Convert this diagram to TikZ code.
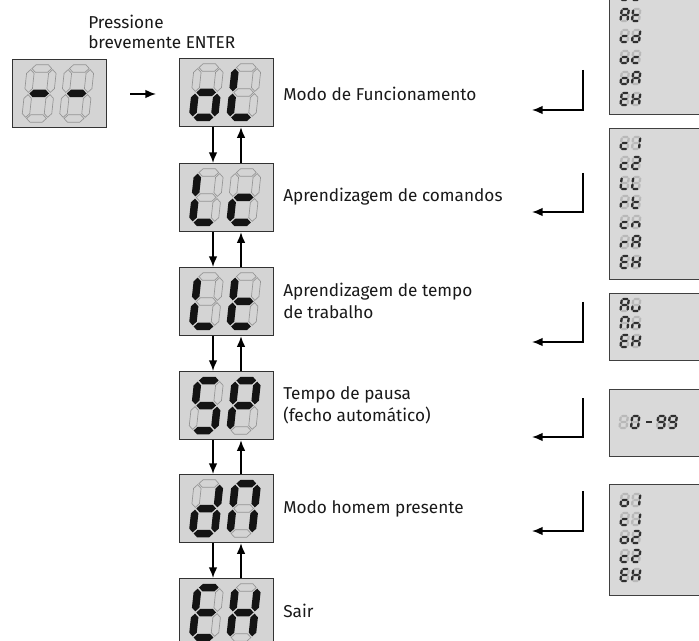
\documentclass[tikz,border=0pt]{standalone}
\usepackage{fontspec}
\setmainfont{Fira Sans}
\usetikzlibrary{arrows.meta,calc}
\makeatletter
\newcommand\segtest[1]{\edef\segtmp{\noexpand\in@{#1}{\segs}}\segtmp
 \ifin@\tikzset{curseg/.style={segon}}\else\tikzset{curseg/.style={segoff}}\fi}
\makeatother
\newcommand\hseg[4]{\segtest{#1}%
 \path[curseg] (#2+\sG,#4) -- (#2+\sG+\sT,#4+\sT) -- (#3-\sG-\sT,#4+\sT) -- (#3-\sG,#4) -- (#3-\sG-\sT,#4-\sT) -- (#2+\sG+\sT,#4-\sT) -- cycle;}
\newcommand\vseg[4]{\segtest{#1}%
 \path[curseg] (#2,#3+\sG) -- (#2+\sT,#3+\sG+\sT) -- (#2+\sT,#4-\sG-\sT) -- (#2,#4-\sG) -- (#2-\sT,#4-\sG-\sT) -- (#2-\sT,#3+\sG+\sT) -- cycle;}
% X, Y (px, baseline-left), W, H, T, slant, segments
\newcommand\sevdig[7]{%
 \begin{scope}[shift={(#1,#2)},x={(0.75pt,0pt)},y={(#6pt,0.75pt)}]
 \def\sW{#3}\def\sH{#4}\pgfmathsetmacro\sT{#5/2}\pgfmathsetmacro\sG{#5*0.15}\pgfmathsetmacro\sM{#4/2}\def\segs{#7}%
 \hseg{a}{0}{\sW}{\sH}
 \hseg{g}{0}{\sW}{\sM}
 \hseg{d}{0}{\sW}{0}
 \vseg{f}{0}{\sM}{\sH}
 \vseg{b}{\sW}{\sM}{\sH}
 \vseg{e}{0}{0}{\sM}
 \vseg{c}{\sW}{0}{\sM}
 \end{scope}}
\newcommand\bigpair[4]{%
 \sevdig{#1+13.5}{#2+59.5}{22}{50}{7.5}{0.08}{#3}%
 \sevdig{#1+51}{#2+59.5}{22}{50}{7.5}{0.08}{#4}}
\newcommand\smalldig[3]{\sevdig{#1}{#2}{7}{12}{2.4}{0.08}{#3}}
\newcommand\smallpair[3]{%
 \smalldig{620.5}{#1+6}{#2}%
 \smalldig{632}{#1+6}{#3}}
\begin{document}
\begin{tikzpicture}[x=0.75pt,y=-0.75pt,
  bigbox/.style={draw=black!80, fill=black!17, line width=0.9pt, minimum width=70.5pt, minimum height=51pt, inner sep=0pt, anchor=north west},
  listbox/.style={draw=black!75, fill=black!15, line width=0.8pt, inner sep=0pt, anchor=north west, minimum width=84pt},
  lbl/.style={anchor=west, align=left, inner sep=0pt, text=black!90, font=\fontsize{12.9}{16.3}\selectfont},
  arr/.style={line width=1.2pt, -{Latex[length=8pt,width=6.5pt]}},
  segon/.style={fill=black!92},
  segoff/.style={draw=black!42, line width=0.5pt}]
\useasboundingbox (0,0) rectangle (699,641);
\clip (0,0) rectangle (699,641);
\fill[white] (0,0) rectangle (699,641);

% start display
\node[bigbox] (start) at (12,59) {};
\bigpair{12}{59}{g}{g}
\node[lbl, align=left, font=\fontsize{12.9}{14.5}\selectfont] (press) at (88,32) {Pressione\\brevemente ENTER};

% main column
\node[bigbox] (m1) at (179,58) {};
\node[bigbox] (m2) at (179,163) {};
\node[bigbox] (m3) at (179,267) {};
\node[bigbox] (m4) at (179,371) {};
\node[bigbox] (m5) at (179,474) {};
\node[bigbox] (m6) at (179,578) {};
\bigpair{179}{58}{cdeg}{def}
\bigpair{179}{163}{def}{deg}
\bigpair{179}{267}{def}{defg}
\bigpair{179}{371}{acdfg}{abefg}
\bigpair{179}{474}{bcdeg}{abcef}
\bigpair{179}{578}{adefg}{bcefg}

\coordinate (sa) at (130,94);
\coordinate (sb) at (156,94);
\draw[arr] (sa) -- (sb);

\foreach \u/\v in {m1/m2,m2/m3,m3/m4,m4/m5,m5/m6}{
  \draw[arr] ($(\u.south west)+(34,0)$) -- ($(\v.north west)+(34,0)$);
  \draw[arr] ($(\v.north west)+(62,0)$) -- ($(\u.south west)+(62,0)$);
}

% labels
\node[lbl] (l1) at (283,94) {Modo de Funcionamento};
\node[lbl] (l2) at (283,197) {Aprendizagem de comandos};
\node[lbl] (l3) at (283,301) {Aprendizagem de tempo\\de trabalho};
\node[lbl] (l4) at (283,405) {Tempo de pausa\\(fecho automático)};
\node[lbl] (l5) at (283,509) {Modo homem presente};
\node[lbl] (l6) at (283,611) {Sair};

% right-angle connectors
\coordinate (c1a) at (583,70);  \coordinate (c1b) at (532,110);
\coordinate (c2a) at (583,173); \coordinate (c2b) at (532,212);
\coordinate (c3a) at (583,302); \coordinate (c3b) at (532,342);
\coordinate (c4a) at (583,398); \coordinate (c4b) at (532,437);
\coordinate (c5a) at (583,491); \coordinate (c5b) at (532,531);
\foreach \i in {1,...,5}{\draw[arr] (c\i a) |- (c\i b);}

% option lists
\node[listbox, minimum height=93pt] (r1) at (609,-10) {};
\node[listbox, minimum height=113.25pt] (r2) at (609,128) {};
\node[listbox, minimum height=50.25pt] (r3) at (609,293) {};
\node[listbox, minimum height=50.25pt] (r4) at (609,389) {};
\node[listbox, minimum height=83.25pt] (r5) at (609,484) {};

\begin{scope}[segon/.style={fill=black!82}, segoff/.style={fill=black!28}]
\smallpair{-6}{deg}{deg}
\smallpair{15}{abcefg}{defg}
\smallpair{36}{deg}{bcdeg}
\smallpair{57}{cdeg}{deg}
\smallpair{78}{cdeg}{abcefg}
\smallpair{99}{adefg}{bcefg}

\smallpair{143}{deg}{bc}
\smallpair{163}{deg}{abdeg}
\smallpair{183}{def}{def}
\smallpair{202}{eg}{defg}
\smallpair{222}{deg}{ceg}
\smallpair{242}{eg}{abcefg}
\smallpair{262}{adefg}{bcefg}

\smallpair{305}{abcefg}{cde}
\smallpair{323}{abcef}{ceg}
\smallpair{341}{adefg}{bcefg}

\smalldig{619.5}{428}{x}
\smalldig{631}{428}{abcdef}
\fill[black!82] (645.5,421) rectangle (652,423.4);
\smalldig{657}{428}{abcdfg}
\smalldig{668.5}{428}{abcdfg}

\smallpair{500}{cdeg}{bc}
\smallpair{519}{deg}{bc}
\smallpair{537}{cdeg}{abdeg}
\smallpair{556}{deg}{abdeg}
\smallpair{575}{adefg}{bcefg}
\end{scope}
\end{tikzpicture}
\end{document}
